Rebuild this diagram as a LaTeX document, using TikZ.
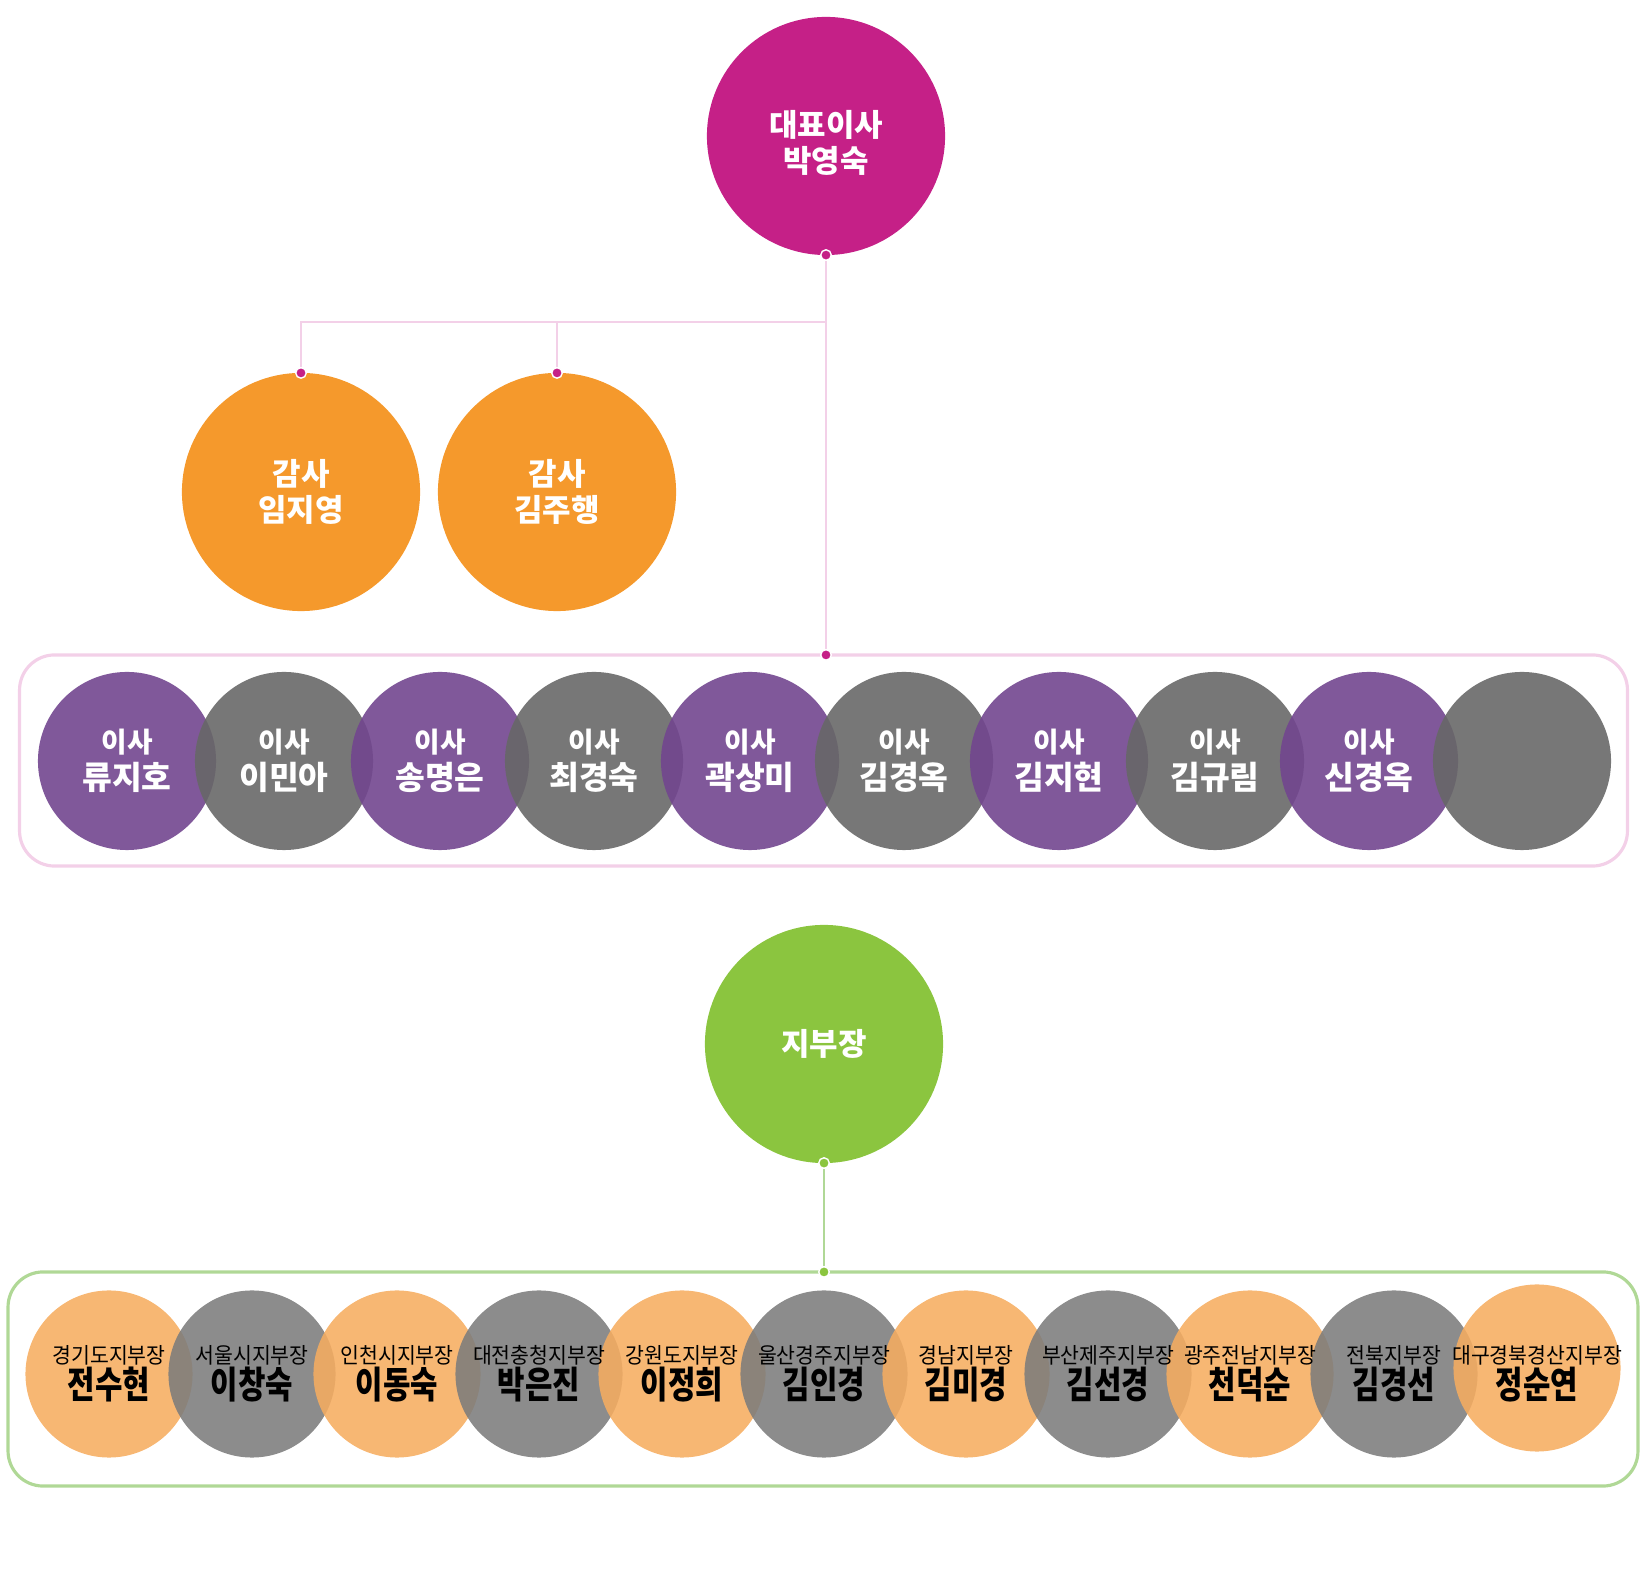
\documentclass[tikz,border=0pt]{standalone}
\usepackage{fontspec}
\setmainfont{Noto Sans CJK KR}
\usetikzlibrary{positioning}

\definecolor{ceocol}{RGB}{197,32,135}
\definecolor{audcol}{RGB}{245,153,44}
\definecolor{dircol}{RGB}{114,70,143}
\definecolor{dirgrey}{RGB}{104,104,104}
\definecolor{brcol}{RGB}{246,173,96}
\definecolor{brgrey}{RGB}{124,124,124}
\definecolor{grncol}{RGB}{139,197,63}
\definecolor{pinkline}{RGB}{243,208,232}
\definecolor{grnline}{RGB}{176,216,150}

\begin{document}
\begin{tikzpicture}[x=0.01cm,y=-0.01cm]
\tikzset{big/.style = {circle, inner sep=0pt, outer sep=0pt, minimum size=2.38cm, text=white, align=center,
  font=\bfseries\fontsize{8.8}{10.4}\selectfont}}
\tikzset{dir/.style = {circle, inner sep=0pt, outer sep=0pt, minimum size=1.78cm, fill opacity=0.9, text opacity=1,
  text=white, align=center, font=\bfseries\fontsize{9.2}{10.6}\selectfont}}
\tikzset{br/.style = {circle, inner sep=0pt, outer sep=0pt, minimum size=1.67cm, fill opacity=0.88}}
\tikzset{brtext/.style = {inner sep=0pt, text=black, align=center, font=\bfseries\fontsize{10.6}{11}\selectfont}}
\tikzset{frame/.style = {draw, rounded corners=10pt, line width=0.9pt, inner sep=0pt, outer sep=0pt}}
\tikzset{dot/.style = {draw=white, line width=0.4pt}}
\newcommand{\isa}{{\fontsize{7.9}{9}\selectfont 이사}\\}
\newcommand{\brt}[2]{{\mdseries\fontsize{6.2}{7}\selectfont\scalebox{0.94}[1]{#1}}\\[-1pt]\scalebox{0.8}[1]{#2}}
\useasboundingbox (0,0) rectangle (1648,1580);
% frames
\node[frame, pinkline, minimum width=16.07cm, minimum height=2.11cm] (board) at (823.5,760.5) {};
\node[frame, grnline, minimum width=16.29cm, minimum height=2.14cm] (brbox) at (823,1379) {};
% top
\node[big, fill=ceocol] (ceo) at (826,136) {};
\node[text=white, align=center, font=\bfseries\fontsize{8.8}{10.4}\selectfont] (ceot) at (826,143) {대표이사\\박영숙};
\node[big, fill=audcol] (aud1) at (301,492) {감사\\임지영};
\node[big, fill=audcol] (aud2) at (557,492) {감사\\김주행};
\coordinate (fork) at (826,322);
\draw[pinkline, line width=0.7pt] (ceo.south) -- (ceo.south |- board.north);
\draw[pinkline, line width=0.7pt] (fork) -| (aud1.north);
\draw[pinkline, line width=0.7pt] (fork) -| (aud2.north);
\filldraw[dot, fill=ceocol] (ceo.south) circle (1.5pt);
\filldraw[dot, fill=ceocol] (aud1.north) circle (1.5pt);
\filldraw[dot, fill=ceocol] (aud2.north) circle (1.5pt);
\filldraw[dot, fill=ceocol] (ceo.south |- board.north) circle (1.5pt);
% directors
\node[dir, fill=dircol] (d1) at (127,761) {\isa 류지호};
\node[dir, fill=dirgrey] (d2) at (284,761) {\isa 이민아};
\node[dir, fill=dircol] (d3) at (440,761) {\isa 송명은};
\node[dir, fill=dirgrey] (d4) at (594,761) {\isa 최경숙};
\node[dir, fill=dircol] (d5) at (750,761) {\isa 곽상미};
\node[dir, fill=dirgrey] (d6) at (904,761) {\isa 김경옥};
\node[dir, fill=dircol] (d7) at (1059,761) {\isa 김지현};
\node[dir, fill=dirgrey] (d8) at (1215,761) {\isa 김규림};
\node[dir, fill=dircol] (d9) at (1369,761) {\isa 신경옥};
\node[dir, fill=dirgrey] (d10) at (1522,761) {};
% branches
\node[big, fill=grncol] (head) at (824,1044) {지부장};
\draw[grnline, line width=0.7pt] (head.south) -- (head.south |- brbox.north);
\filldraw[dot, fill=grncol] (head.south) circle (1.5pt);
\filldraw[dot, fill=grncol] (head.south |- brbox.north) circle (1.5pt);
\node[br, fill=brcol] (b1) at (109,1374) {};
\node[br, fill=brgrey] (b2) at (252,1374) {};
\node[br, fill=brcol] (b3) at (397,1374) {};
\node[br, fill=brgrey] (b4) at (539,1374) {};
\node[br, fill=brcol] (b5) at (682,1374) {};
\node[br, fill=brgrey] (b6) at (824,1374) {};
\node[br, fill=brcol] (b7) at (966,1374) {};
\node[br, fill=brgrey] (b8) at (1108,1374) {};
\node[br, fill=brcol] (b9) at (1250,1374) {};
\node[br, fill=brgrey] (b10) at (1394,1374) {};
\node[br, fill=brcol] (b11) at (1537,1368) {};
% branch names
\node[brtext] (n1) at (b1) {\brt{경기도지부장}{전수현}};
\node[brtext] (n2) at (b2) {\brt{서울시지부장}{이창숙}};
\node[brtext] (n3) at (b3) {\brt{인천시지부장}{이동숙}};
\node[brtext] (n4) at (b4) {\brt{대전충청지부장}{박은진}};
\node[brtext] (n5) at (b5) {\brt{강원도지부장}{이정희}};
\node[brtext] (n6) at (b6) {\brt{울산경주지부장}{김인경}};
\node[brtext] (n7) at (b7) {\brt{경남지부장}{김미경}};
\node[brtext] (n8) at (b8) {\brt{부산제주지부장}{김선경}};
\node[brtext] (n9) at (b9) {\brt{광주전남지부장}{천덕순}};
\node[brtext] (n10) at (b10) {\brt{전북지부장}{김경선}};
\node[brtext] (n11) at (1537,1374) {\brt{대구경북경산지부장}{정순연}};
\end{tikzpicture}
\end{document}
